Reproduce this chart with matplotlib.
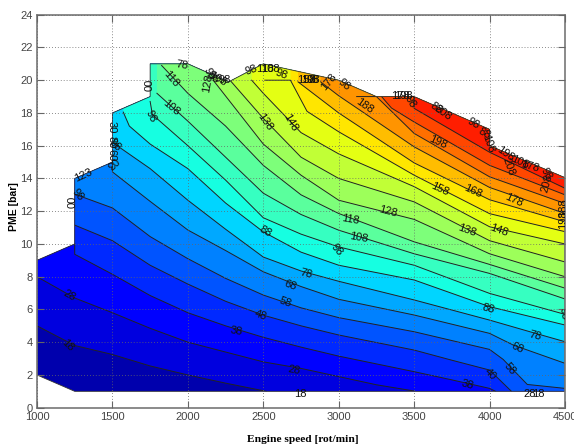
import numpy as np
import matplotlib
matplotlib.use("Agg")
import matplotlib.pyplot as plt
from matplotlib.patches import Polygon

plt.rcParams["font.family"] = ["Liberation Sans", "DejaVu Sans"]

# Outline of the measured region of the map
envelope_speed = [1000, 1250, 4500, 4500, 4000, 4000, 3500, 3250, 3000, 2500, 2270, 2000, 1750, 1750, 1500, 1500, 1250, 1250, 1000]
envelope_pme = [2, 1, 1, 14.05, 16, 17, 19, 19, 20, 21, 19.9, 21, 21, 19, 18, 15, 14, 10, 9]

# Contour lines, one speed list and one PME list per level
levels = [18, 28, 38, 48, 58, 68, 78, 88, 98, 108, 118, 128, 138, 148, 158, 168, 178, 188, 198, 208]
line_speed = [
    [1000, 1250, 1500, 1750, 2000, 2250, 2520],
    [1000, 1250, 1500, 1750, 2000, 2250, 2500, 2750, 3000, 3250, 3500],
    [1250, 1250, 1500, 1750, 2000, 2250, 2500, 2750, 3000, 3500, 3750, 4000, 4040],
    [1250, 1500, 1750, 2000, 2250, 2500, 2750, 3000, 3500, 3750, 4000, 4145],
    [1250, 1500, 1750, 2000, 2250, 2500, 2750, 3000, 3500, 4000, 4090, 4250, 4500],
    [1500, 1500, 1750, 2000, 2250, 2500, 2750, 3000, 3500, 4000, 4156, 4500],
    [1500, 1750, 2000, 2250, 2500, 2750, 3000, 3500, 4000, 4267, 4500],
    [1572, 1612, 1750, 2000, 2250, 2500, 2750, 3000, 3500, 4000, 4500],
    [1750, 1765, 2000, 2250, 2500, 2750, 3000, 3500, 4000, 4500],
    [1795, 2000, 2250, 2500, 2750, 3000, 3500, 4000, 4500],
    [1826, 2000, 2250, 2500, 2750, 3000, 3500, 4000, 4500],
    [2168, 2500, 2750, 3000, 3500, 4000, 4500],
    [2279, 2500, 2750, 3000, 3500, 4000, 4500],
    [2423, 2500, 2750, 3000, 3500, 4000, 4500],
    [2510, 2680, 2790, 3000, 3500, 4000, 4500],
    [2730, 3000, 3500, 4000, 4500],
    [2880, 3000, 3500, 4000, 4500],
    [3119, 3250, 3500, 4000, 4500],
    [3284, 3350, 3500, 4000, 4500],
    [3500, 3500, 4000, 4500],
]
line_pme = [
    [5.0, 3.8, 3.25, 2.55, 2.0, 1.5, 1.0],
    [8.0, 6.7, 5.8, 4.85, 4.0, 3.4, 2.8, 2.4, 1.9, 1.4, 1.02],
    [10, 9.37, 8.15, 6.85, 5.8, 5.0, 4.3, 3.7, 3.15, 2.2, 1.7, 1.18, 1.0],
    [11.15, 10.2, 8.7, 7.55, 6.5, 5.65, 5.0, 4.44, 3.52, 2.9, 2.3, 1.0],
    [13.04, 12.2, 10.45, 9.1, 7.9, 6.88, 6.1, 5.5, 4.64, 3.56, 2.95, 1.42, 1.18],
    [15, 14.4, 12.6, 10.85, 9.6, 8.3, 7.4, 6.62, 5.66, 4.54, 3.83, 2.71],
    [16.2, 14.6, 12.67, 10.9, 9.2, 8.35, 7.72, 6.58, 5.35, 4.64, 4.03],
    [18.05, 17.2, 16.1, 14.6, 12.5, 10.74, 9.5, 8.7, 7.8, 6.17, 5.05],
    [18.7, 17.9, 16.0, 13.9, 11.6, 10.6, 9.82, 8.7, 6.98, 5.7],
    [19.2, 17.5, 15.3, 13.1, 11.8, 10.84, 9.4, 8.2, 6.64],
    [20.9, 19.2, 17.2, 14.8, 13.0, 11.86, 10.13, 8.75, 7.3],
    [20, 16.1, 14.2, 12.67, 11.5, 9.4, 8.0],
    [20, 17.67, 15.3, 14.0, 12.57, 10.2, 8.9],
    [20, 19.2, 16.8, 15.5, 13.5, 11.05, 10.0],
    [20, 20, 18.1, 16.85, 14.2, 11.85, 10.75],
    [19.9, 18.0, 14.95, 12.7, 11.35],
    [19.9, 19.05, 15.93, 13.45, 11.86],
    [19, 19, 16.75, 14.1, 12.47],
    [19, 18.3, 17.45, 14.8, 13.0],
    [19, 18.28, 15.6, 13.4],
]
# Levels whose contour starts with a flat run under the top edge: the run is only a stroke
flat_start_levels = [158, 188]

# Contour labels as printed, overlaps included
label_text = ["18", "28", "18", "28", "38", "48", "58", "68", "78", "18", "28", "88", "98", "108", "118", "128",
              "138", "148", "158", "168", "178", "188", "198", "88", "78", "68", "58", "40", "38", "98",
              "78", "118", "108", "98", "00", "138", "148", "98", "118", "108", "98",
              "98", "128", "88", "108", "98", "158", "108", "98", "178", "98", "178", "198", "98",
              "88", "208", "98", "88", "108", "198", "208", "108", "178", "98", "208", "188", "198",
              "30", "80", "98", "60", "03", "123", "00", "98"]
label_speed = [1203, 1212, 2743, 2703, 2323, 2482, 2648, 2681, 2787, 4320, 4267, 2516, 2990, 3130, 3079, 3328,
               3852, 4064, 3671, 3891, 4161, 3169, 3655, 3991, 4300, 4186, 4135, 4002, 3851, 4488,
               1959, 1886, 1892, 1753, 1744, 2510, 2677, 2423, 2511, 2549, 2621,
               2135, 2129, 2167, 2200, 2246, 2787, 2810, 2830, 2931, 3036, 3406, 3430, 3472,
               3649, 3693, 3891, 3969, 3991, 4102, 4128, 4201, 4267, 4378, 4378, 4488, 4488,
               1495, 1495, 1517, 1495, 1495, 1305, 1236, 1272]
label_pme = [3.81, 6.82, 0.84, 2.3, 4.7, 5.66, 6.41, 7.45, 8.16, 0.84, 0.84, 10.74, 9.67, 10.4, 11.46, 12.0,
             10.85, 10.8, 13.35, 13.19, 12.68, 18.42, 16.24, 6.07, 4.4, 3.63, 2.4, 2.06, 1.43, 5.76,
             20.92, 20.05, 18.34, 17.77, 19.7, 17.45, 17.4, 20.6, 20.7, 20.7, 20.37,
             20.37, 19.8, 20.2, 20.05, 20.0, 20.0, 20.0, 20.0, 19.9, 19.7, 19.05, 19.05, 18.7,
             18.3, 18.0, 17.36, 16.75, 16.15, 15.53, 14.7, 15.0, 14.7, 14.3, 13.7, 12.2, 11.46,
             17.15, 16.24, 16.04, 15.43, 14.95, 14.2, 12.58, 12.98]
label_angle = [-45, -30, 0, -10, -10, -20, -20, -20, -15, 0, 0, -30, -50, -10, -10, -15,
               -20, -20, -25, -25, -25, -35, -25, -15, -15, -25, -50, -45, -15, -80,
               -10, -50, -40, -65, 90, -55, -60, 20, 0, 0, -20,
               -70, 80, -45, -30, 0, 0, 0, 0, 50, -40, 0, 0, -60,
               -35, -35, -30, -30, -70, -35, -70, -25, -15, -60, 75, 90, 90,
               -90, -90, -45, -90, -135, 25, 90, -50]

x_ticks = [1000, 1500, 2000, 2500, 3000, 3500, 4000, 4500]
y_ticks = list(range(0, 25, 2))

fig = plt.figure(figsize=(5.74, 4.47), dpi=100)
ax = fig.add_axes([37 / 574, 1 - 407.7 / 447, 528 / 574, 393 / 447])
ax.set_xlim(1000, 4500)
ax.set_ylim(0, 24)

outline = list(zip(envelope_speed, envelope_pme))


def band_color(low):
    # jet colours: cyan sits on the 88-98 band, yellow on the 148-158 band
    return plt.cm.jet(min((low + 5 - 3) / 240, 0.88))


# Paint from the lowest band up, each one above its contour and inside the outline
clip = Polygon(outline, closed=True, transform=ax.transData, facecolor="none", edgecolor="none")
ax.add_patch(clip)
base = Polygon(outline, closed=True, facecolor=band_color(8), edgecolor="none", zorder=1)
ax.add_patch(base)
for level, sp, pm in zip(levels, line_speed, line_pme):
    skip = 1 if level in flat_start_levels else 0
    poly = list(zip(sp[skip:], pm[skip:])) + [(5000, pm[-1]), (5000, 30), (sp[skip], 30)]
    band = Polygon(poly, closed=True, facecolor=band_color(level), edgecolor="none", zorder=1)
    ax.add_patch(band)
    band.set_clip_path(clip)

for sp, pm in zip(line_speed, line_pme):
    l, = ax.plot(sp, pm, color="#222222", lw=0.7, zorder=2)
    l.set_clip_path(clip)
ax.add_patch(Polygon(outline, closed=True, facecolor="none", edgecolor="#333333", lw=0.6, zorder=2))

ax.grid(True, linestyle=(0, (1, 2.5)), color="#666666", lw=0.6, zorder=3)
ax.set_axisbelow(False)
ax.set_xticks(x_ticks)
ax.set_yticks(y_ticks)
ax.tick_params(direction="in", length=5, width=0.8, color="#666666", labelcolor="#444444", labelsize=8, pad=3,
               top=True, right=True)
for s in ax.spines.values():
    s.set_color("#777777")
    s.set_linewidth(1.2)

for t, sp, pm, a in zip(label_text, label_speed, label_pme, label_angle):
    ax.text(sp, pm, t, fontsize=8, rotation=a, ha="center", va="center", rotation_mode="anchor",
            color="#111111", zorder=4, clip_on=True)

fig.text(303 / 574, 1 - 440 / 447, "Engine speed [rot/min]", family="Liberation Serif", fontweight="bold",
         fontsize=8.2, ha="center", va="center")
fig.text(14 / 574, 1 - 207 / 447, "PME [bar]", fontweight="bold", fontsize=7.5, rotation=90, ha="center", va="center")

fig.savefig("out.png", dpi=100)
